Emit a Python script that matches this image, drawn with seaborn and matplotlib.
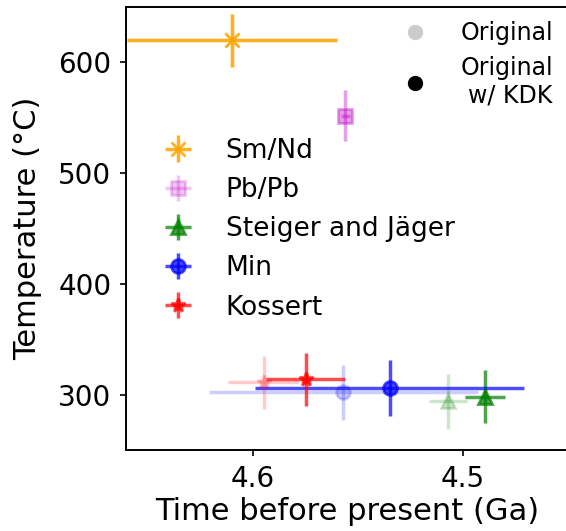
import numpy as np
import matplotlib
matplotlib.use("Agg")
import matplotlib.pyplot as plt
import seaborn as sns
from matplotlib.lines import Line2D

# Age estimates (Ga) and temperatures (deg C), original vs. with KDK
labels = ["Sm/Nd", "Pb/Pb", "Steiger and Jäger", "Min", "Kossert"]
colors = ["orange", "#c000c8", "green", "blue", "red"]
markers = ["x", "s", "^", "o", "*"]

age_orig = [4.61, 4.556, 4.507, 4.557, 4.595]
age_orig_err = [0.05, 0.002, 0.009, 0.064, 0.017]
temp_orig = [620, 552, 294, 302, 311]
temp_orig_err = [24, 23, 25, 25, 24]

age_kdk = [4.61, 4.556, 4.4895, 4.535, 4.575]
age_kdk_err = [0.05, 0.002, 0.0095, 0.064, 0.0186]
temp_kdk = [620, 552, 298, 306, 314]
temp_kdk_err = [24, 23, 24, 25, 24]

kdk_alpha = [0.85, 0.22, 0.7, 0.7, 0.7]

sns.set_theme(style="ticks")
plt.rcParams["font.family"] = ["DejaVu Sans"]
plt.rcParams["text.color"] = "black"
plt.rcParams["axes.labelcolor"] = "black"

W, H = 566, 531
fig = plt.figure(figsize=(W / 100, H / 100), dpi=100)
ax = fig.add_axes([126 / W, 1 - 450 / H, 442 / W, 443 / H])

handles = []
for i in range(len(labels)):
    ax.errorbar(age_orig[i], temp_orig[i], xerr=age_orig_err[i], yerr=temp_orig_err[i],
                color=colors[i], marker=markers[i], markersize=10, lw=2.5,
                alpha=0.2, linestyle="none", markeredgewidth=2)
    h = ax.errorbar(age_kdk[i], temp_kdk[i], xerr=age_kdk_err[i], yerr=temp_kdk_err[i],
                    color=colors[i], marker=markers[i], markersize=10, lw=2.5,
                    alpha=kdk_alpha[i], linestyle="none", markeredgewidth=2,
                    label=labels[i])
    handles.append(h)

ax.set_xlim(4.6605, 4.45)
ax.set_ylim(250, 650)
ax.set_xticks([4.6, 4.5])
ax.set_yticks([300, 400, 500, 600])
ax.tick_params(labelsize=20, length=4.5, width=1.2, pad=6, colors="black")
for s in ax.spines.values():
    s.set_color("black")
    s.set_linewidth(1.4)
ax.set_xlabel("Time before present (Ga)", fontsize=22)
ax.set_ylabel("Temperature (°C)", fontsize=22)
ax.xaxis.set_label_coords(0.5, -0.106)
ax.yaxis.set_label_coords(-0.19, 0.5)

fig.legend(handles=handles, labels=labels, loc="upper left",
           bbox_to_anchor=(128 / W, 1 - 114 / H), frameon=False, fontsize=19,
           labelspacing=0.5)

style_handles = [
    Line2D([], [], marker="o", color="#cccccc", linestyle="none", markersize=10),
    Line2D([], [], marker="o", color="black", linestyle="none", markersize=10),
]
leg2 = fig.legend(handles=style_handles, labels=["Original", "Original\nw/ KDK"],
                  loc="upper right", bbox_to_anchor=(574 / W, 1.0), frameon=False,
                  fontsize=17, handletextpad=0.9, labelspacing=0.45)
for t in leg2.get_texts():
    t.set_multialignment("right")

fig.savefig("out.png", dpi=100)
